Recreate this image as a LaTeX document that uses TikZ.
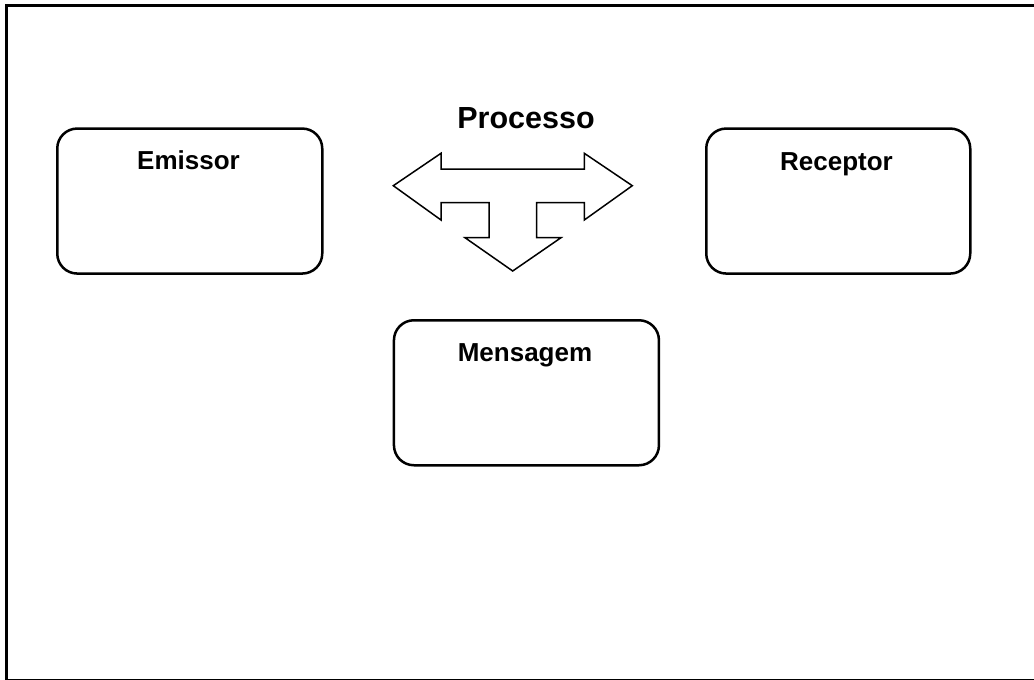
\documentclass[tikz,border=0pt]{standalone}
\usepackage{fontspec}
\setmainfont{Liberation Sans}
\begin{document}
\begin{tikzpicture}[x=1pt,y=-1pt,
  box/.style={draw,line width=2.5pt,rounded corners=20pt,inner sep=0pt,anchor=north west},
  title/.style={font=\bfseries\fontsize{26}{30}\selectfont,anchor=base,inner sep=0pt},
  blockarrow/.style={draw,line width=1.5pt,line join=miter}]
\useasboundingbox (0,0) rectangle (1034,680);
\clip (0,0) rectangle (1034,680);
% outer frame
\draw[line width=2.5pt] (6.5,5.5) rectangle (1036,680.6);
% boxes
\node[box,minimum width=265pt,minimum height=145pt] (emissor) at (56,127.3) {};
\node[box,minimum width=264pt,minimum height=145pt] (receptor) at (705,127.3) {};
\node[box,minimum width=265pt,minimum height=145pt] (mensagem) at (392.7,319) {};
\node[title] (temissor) at (188.5,169) {Emissor};
\node[title] (treceptor) at (836.5,170) {Receptor};
\node[title] (tmensagem) at (525,361) {Mensagem};
\node[title,font=\bfseries\fontsize{30.5}{34}\selectfont] (tprocesso) at (526,128) {Processo};
% three-way block arrow
\draw[blockarrow] (393.3,185.7) -- (441,153.3) -- (441,169) -- (584.3,169) -- (584.3,153.3)
  -- (632.3,185.7) -- (584.3,220) -- (584.3,202.7) -- (536.7,202.7) -- (536.7,237.7)
  -- (561,237.7) -- (512.7,271) -- (465,237.7) -- (489,237.7) -- (489,202.7)
  -- (441,202.7) -- (441,220) -- cycle;
\end{tikzpicture}
\end{document}
